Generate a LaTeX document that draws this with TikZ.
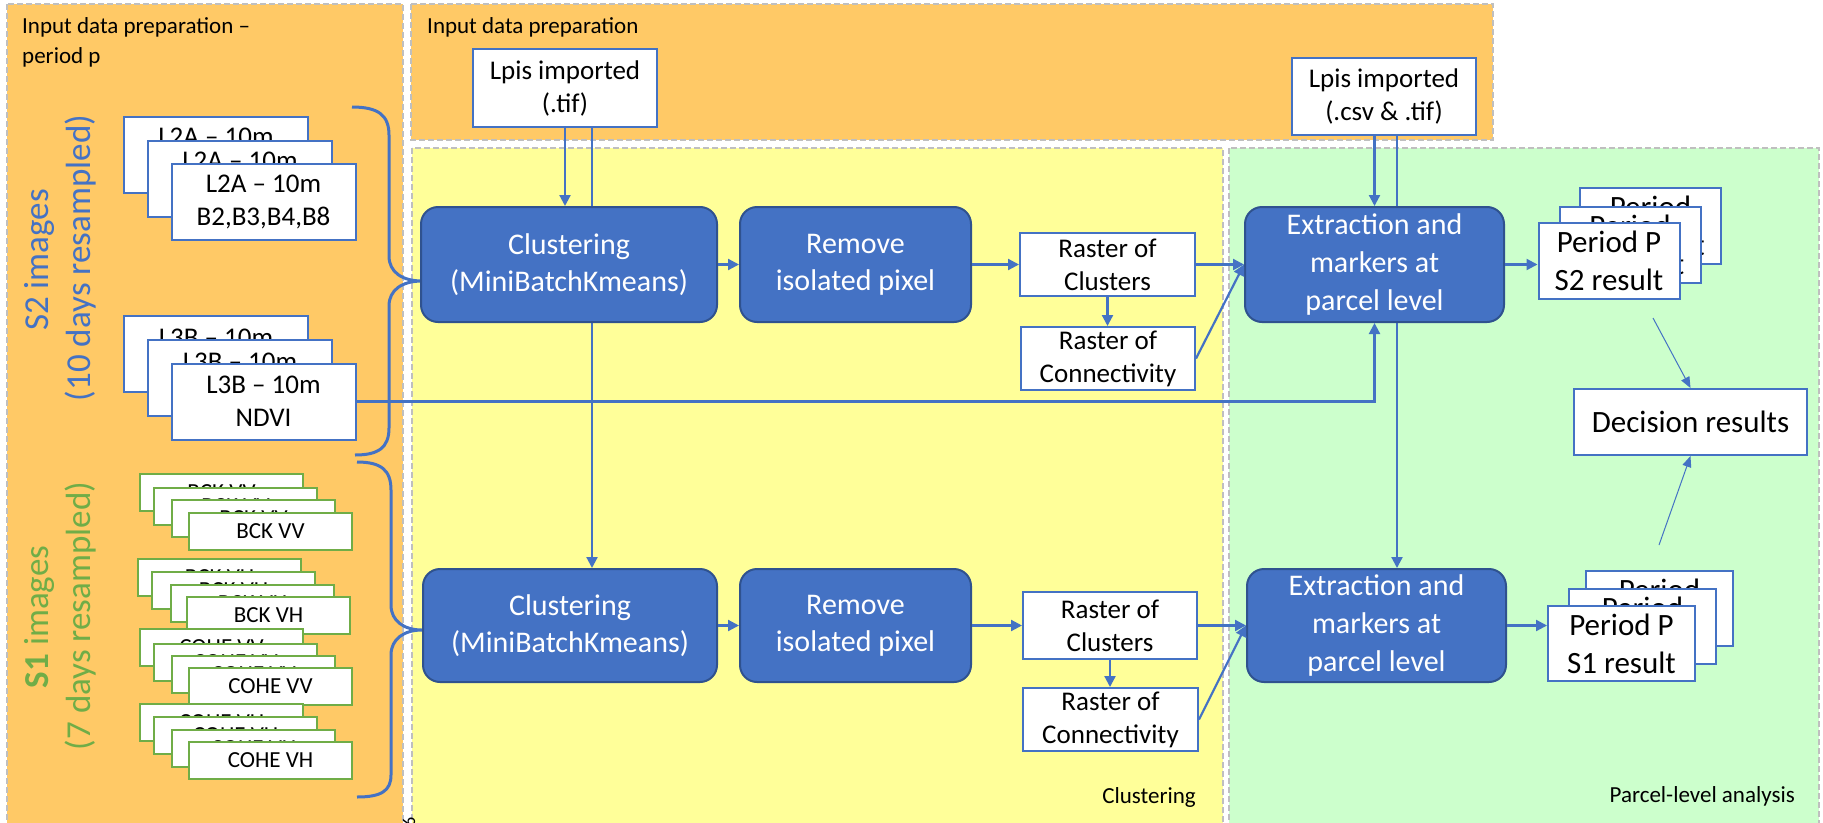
\documentclass[tikz,border=0pt]{standalone}
\usepackage{fontspec}
\setmainfont{Carlito}
\usetikzlibrary{arrows.meta,calc}

\definecolor{panelorange}{HTML}{FFC966}
\definecolor{panelyellow}{HTML}{FFFF99}
\definecolor{panelgreen}{HTML}{CCFFCC}
\definecolor{framegray}{HTML}{BFBFBF}
\definecolor{boxblue}{HTML}{4472C4}
\definecolor{procedge}{HTML}{2F528F}
\definecolor{sonegreen}{HTML}{70AD47}

\pgfdeclarelayer{panels}
\pgfdeclarelayer{wires}
\pgfsetlayers{panels,wires,main}

\tikzset{
  frame/.style={draw=framegray, dash pattern=on 6pt off 3pt, line width=1.3pt},
  databox/.style={draw=boxblue, fill=white, line width=2pt, inner sep=0pt,
    align=center, font=\fontsize{27}{33}\selectfont},
  periodbox/.style={databox, font=\fontsize{31}{38}\selectfont},
  sonebox/.style={draw=sonegreen, fill=white, line width=2pt, inner sep=0pt,
    minimum width=163pt, minimum height=37pt, font=\fontsize{23}{27}\selectfont},
  procbox/.style={draw=procedge, fill=boxblue, rounded corners=17pt, line width=2pt,
    text=white, inner sep=0pt, align=center, font=\fontsize{30}{37}\selectfont},
  flow/.style={draw=boxblue, line width=2.2pt, -{Triangle[length=11pt,width=11pt]}},
  thinflow/.style={draw=boxblue, line width=1pt, -{Triangle[length=11pt,width=9pt]}},
  brace/.style={draw=boxblue, line width=3pt},
  paneltitle/.style={font=\fontsize{23}{30}\selectfont, inner sep=0pt},
  sidecap/.style={rotate=90, anchor=base, inner sep=0pt, font=\fontsize{35}{42}\selectfont},
}

\begin{document}
\begin{tikzpicture}[x=1pt,y=-1pt]
\useasboundingbox (0,0) rectangle (1823,822);

% ---------- panels ----------
\begin{pgfonlayer}{panels}
  \fill[white] (0,0) rectangle (1823,822);
  \draw[frame, fill=panelorange] (7,4) rectangle (403,840);
  \draw[frame, fill=panelorange] (411,4) rectangle (1493,140);
  \draw[frame, fill=panelyellow] (412,148) rectangle (1223,840);
  \draw[frame, fill=panelgreen] (1229,148) rectangle (1819,840);
\end{pgfonlayer}

\node[paneltitle, anchor=base west] (tleft) at (22,33) {Input data preparation –};
\node[paneltitle, anchor=base west] (tleftb) at (22,63) {period p};
\node[paneltitle, anchor=base west] (ttop) at (427,33) {Input data preparation};
\node[paneltitle, anchor=base east] (tclu) at (1196,803) {Clustering};
\node[paneltitle, anchor=base east] (tpar) at (1795,802) {Parcel-level analysis};
\node[rotate=90, anchor=west, inner sep=0pt, font=\fontsize{18}{18}\selectfont] (pgno) at (409,827) {6};

% ---------- side captions ----------
\node[sidecap, text=boxblue] (capS2a) at (48,260) {S2 images};
\node[sidecap, text=boxblue] (capS2b) at (90,258) {(10 days resampled)};
\node[sidecap, text=sonegreen] (capS1a) at (48,617) {\textbf{S1} images};
\node[sidecap, text=sonegreen] (capS1b) at (90,616) {(7 days resampled)};

% ---------- S2 inputs ----------
\foreach \n/\cx/\cy in {1/216/155, 2/240/178.5, 3/263.5/202}
  \node[databox, minimum width=184pt, minimum height=76pt] (l2a\n) at (\cx,\cy) {L2A – 10m\\B2,B3,B4,B8};
\foreach \n/\cx/\cy in {1/216/354, 2/240/378, 3/263.5/401.5}
  \node[databox, minimum width=184pt, minimum height=76pt] (l3b\n) at (\cx,\cy) {L3B – 10m\\NDVI};

% ---------- S1 inputs ----------
\foreach \n/\cx/\cy in {1/221.5/492.5, 2/235.5/506.5, 3/253.5/518.5, 4/270.5/531.5}
  \node[sonebox] (bvv\n) at (\cx,\cy) {BCK VV};
\foreach \n/\cx/\cy in {1/219.5/577.5, 2/233.5/590.5, 3/252.5/603.5, 4/268.5/615.5}
  \node[sonebox] (bvh\n) at (\cx,\cy) {BCK VH};
\foreach \n/\cx/\cy in {1/221.5/647.5, 2/235.5/662.5, 3/253.5/674.5, 4/270.5/686.5}
  \node[sonebox] (cvv\n) at (\cx,\cy) {COHE VV};
\foreach \n/\cx/\cy in {1/221.5/722.5, 2/235.5/735.5, 3/253.5/748.5, 4/270.5/760.5}
  \node[sonebox] (cvh\n) at (\cx,\cy) {COHE VH};

% ---------- braces ----------
\draw[brace] (352,107) .. controls (378,107) and (389,115) .. (389,135) -- (389,256)
  .. controls (389,272) and (402,281) .. (422,281)
  .. controls (402,281) and (389,290) .. (389,306) -- (389,428)
  .. controls (389,448) and (378,455) .. (355,455);
\draw[brace] (357,462) .. controls (381,462) and (391,470) .. (391,490) -- (391,605)
  .. controls (391,621) and (404,630) .. (422,630)
  .. controls (404,630) and (391,639) .. (391,655) -- (391,775)
  .. controls (391,791) and (381,797) .. (357,797);

% ---------- LPIS inputs ----------
\node[databox, minimum width=184pt, minimum height=78pt] (lpisT) at (565,88) {Lpis imported\\(.tif)};
\node[databox, minimum width=184pt, minimum height=77pt] (lpisC) at (1384,96.5) {Lpis imported\\(.csv \& .tif)};

% ---------- processing chain, S2 ----------
\node[procbox, minimum width=296pt, minimum height=115pt] (clu1) at (569,264.5) {Clustering\\(MiniBatchKmeans)};
\node[procbox, minimum width=231pt, minimum height=115pt] (rem1) at (855.5,264.5) {Remove\\isolated pixel};
\node[databox, minimum width=175pt, minimum height=63pt] (rc1) at (1107.5,264.5) {Raster of\\Clusters};
\node[databox, minimum width=174pt, minimum height=63pt] (rx1) at (1108,358.5) {Raster of\\Connectivity};
\node[procbox, minimum width=259pt, minimum height=115pt, font=\fontsize{30}{38}\selectfont] (ext1) at (1374.5,264.5)
  {Extraction and\\markers at\\parcel level};

% ---------- processing chain, S1 ----------
\node[procbox, minimum width=294pt, minimum height=113pt] (clu2) at (570,625.5) {Clustering\\(MiniBatchKmeans)};
\node[procbox, minimum width=231pt, minimum height=113pt] (rem2) at (855.5,625.5) {Remove\\isolated pixel};
\node[databox, minimum width=174pt, minimum height=67pt] (rc2) at (1110,625.5) {Raster of\\Clusters};
\node[databox, minimum width=175pt, minimum height=63pt] (rx2) at (1110.5,719.5) {Raster of\\Connectivity};
\node[procbox, minimum width=259pt, minimum height=113pt, font=\fontsize{30}{38}\selectfont] (ext2) at (1376.5,625.5)
  {Extraction and\\markers at\\parcel level};

% ---------- results ----------
\foreach \n/\cx/\cy/\txt in {1/1650.5/226/Period, 2/1630/244.5/Period, 3/1609/261/Period P}
  \node[periodbox, minimum width=141pt, minimum height=76pt] (ps2\n) at (\cx,\cy) {\txt\\S2 result};
\foreach \n/\cx/\cy/\txt in {1/1659.5/608.5/Period, 2/1642.5/626.5/Period, 3/1621.5/643.5/Period P}
  \node[periodbox, minimum width=147pt, minimum height=75pt] (ps1\n) at (\cx,\cy) {\txt\\S1 result};
\node[periodbox, minimum width=233pt, minimum height=66pt] (dec) at (1690.5,422) {Decision results};
\coordinate (fromS2) at (1653,318);
\coordinate (fromS1) at (1659,545);

% ---------- lines passing behind boxes ----------
\begin{pgfonlayer}{wires}
  \draw[flow] ($(lpisT.south)+(27,0)$) coordinate (viaT) -- (viaT |- clu2.north);
  \draw[flow] ($(lpisC.south)+(13,0)$) coordinate (viaC) -- (viaC |- ext2.north);
\end{pgfonlayer}

% ---------- connectors ----------
\draw[flow] (lpisT.south) -- (lpisT.south |- clu1.north);
\draw[flow] (ext1.north |- lpisC.south) -- (ext1.north);
\draw[flow] (clu1.east) -- (rem1.west);
\draw[flow] (rem1.east) -- (rc1.west);
\draw[flow] (rc1.south) -- (rc1.south |- rx1.north);
\draw[flow] (rc1.east) -- (ext1.west);
\draw[flow] (rx1.east) -- (ext1.west);
\draw[flow] (l3b3.east) -| (ext1.south);
\draw[flow] (ext1.east) -- (ext1.east -| ps23.west);

\draw[flow] (clu2.east) -- (rem2.west);
\draw[flow] (rem2.east) -- (rc2.west);
\draw[flow] (rc2.south) -- (rc2.south |- rx2.north);
\draw[flow] (rc2.east) -- (ext2.west);
\draw[flow] (rx2.east) -- (ext2.west);
\draw[flow] (ext2.east) -- (ext2.east -| ps13.west);

\draw[thinflow] (fromS2) -- (dec.north);
\draw[thinflow] (fromS1) -- (dec.south);
\end{tikzpicture}
\end{document}
